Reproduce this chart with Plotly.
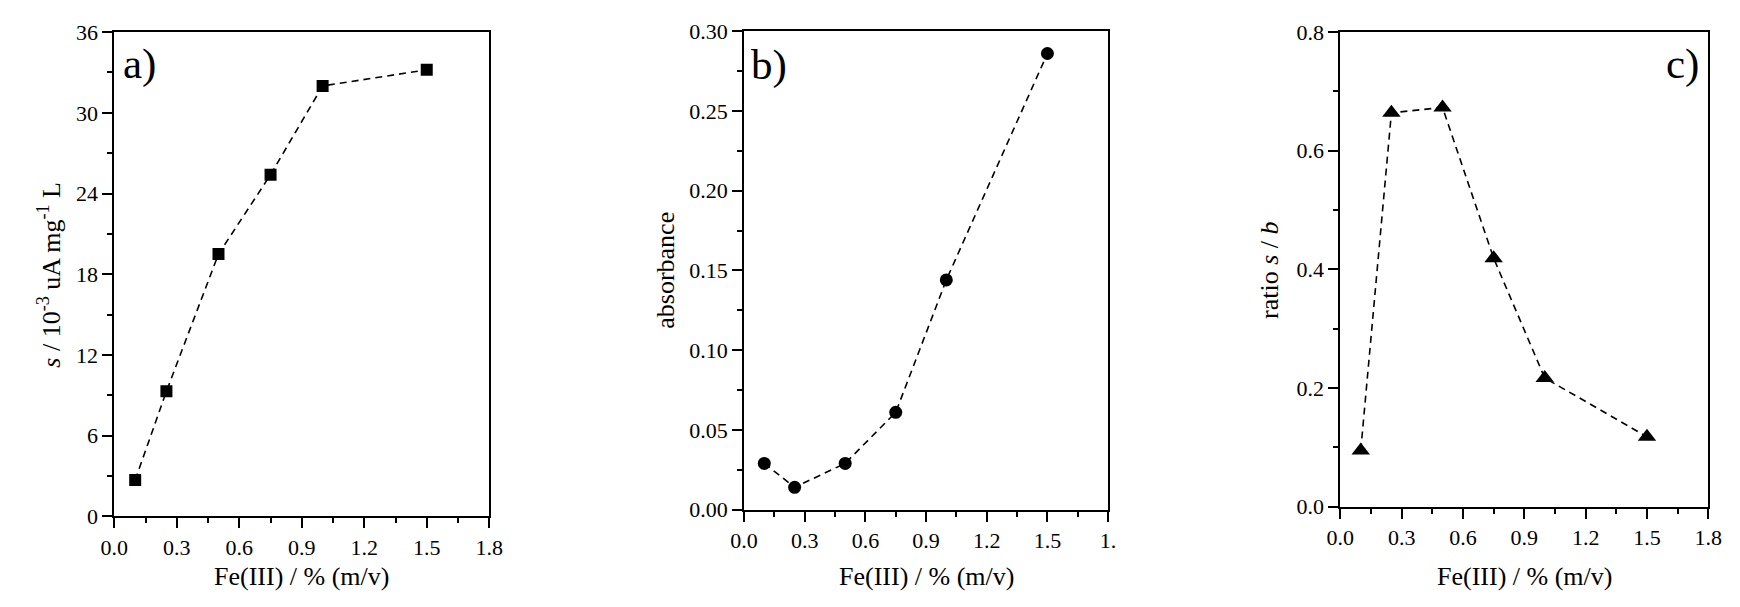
import plotly.graph_objects as go

# ---- data ----
fe_conc = [0.1, 0.25, 0.5, 0.75, 1.0, 1.5]
sensitivity = [2.7, 9.3, 19.5, 25.4, 32.0, 33.2]          # s / 10^-3 uA mg^-1 L
absorbance = [0.029, 0.014, 0.029, 0.061, 0.144, 0.286]
ratio_sb = [0.095, 0.664, 0.673, 0.419, 0.217, 0.118]

x_tick_vals = [0.0, 0.3, 0.6, 0.9, 1.2, 1.5, 1.8]
x_tick_text = ["0.0", "0.3", "0.6", "0.9", "1.2", "1.5", "1.8"]
x_tick_text_b = ["0.0", "0.3", "0.6", "0.9", "1.2", "1.5", "1."]

x_title = "Fe(III) / % (m/v)"
y_titles = ["<i>s</i> / 10<sup>-3</sup> uA mg<sup>-1</sup> L", "absorbance", "ratio <i>s</i> / <i>b</i>"]
panel_labels = ["a)", "b)", "c)"]

W, H = 1740, 607
FONT = "'Liberation Serif', 'Times New Roman', Times, 'DejaVu Serif', serif"

# plot areas in pixels (left, right, top, bottom)
areas = [(102, 483, 21, 526), (742, 1112, 20, 519), (1348, 1722, 21, 516)]

fig = go.Figure()

line_style = dict(color="black", width=1.6, dash="7px,5px")
fig.add_trace(go.Scatter(x=fe_conc, y=sensitivity, mode="lines+markers", line=line_style,
                         marker=dict(symbol="square", size=12, color="black"),
                         xaxis="x", yaxis="y", showlegend=False))
fig.add_trace(go.Scatter(x=fe_conc, y=absorbance, mode="lines+markers", line=line_style,
                         marker=dict(symbol="circle", size=13, color="black"),
                         xaxis="x2", yaxis="y2", showlegend=False))
fig.add_trace(go.Scatter(x=fe_conc, y=ratio_sb, mode="lines+markers", line=line_style,
                         marker=dict(symbol="triangle-up", size=16, color="black"),
                         xaxis="x3", yaxis="y3", showlegend=False))

tickfont = dict(family=FONT, size=22, color="black")

def xaxis(i, ticktext):
    l, r, t, b = areas[i]
    return dict(domain=[l / W, r / W], range=[0, 1.8], anchor=["y", "y2", "y3"][i],
                tickvals=x_tick_vals, ticktext=ticktext, ticks="outside", ticklen=10,
                tickwidth=2, tickcolor="black", showline=True, linewidth=2, linecolor="black",
                mirror=True, showgrid=False, zeroline=False, tickfont=tickfont,
                minor=dict(ticks="outside", ticklen=5, tickwidth=2, tickcolor="black",
                           dtick=0.15, tick0=0, showgrid=False))

def yaxis(i, rng, dtick, minor_dtick, fmt):
    l, r, t, b = areas[i]
    return dict(domain=[1 - b / H, 1 - t / H], range=rng, anchor=["x", "x2", "x3"][i],
                dtick=dtick, tick0=0, tickformat=fmt, ticks="outside", ticklen=10,
                tickwidth=2, tickcolor="black", showline=True, linewidth=2, linecolor="black",
                mirror=True, showgrid=False, zeroline=False, tickfont=tickfont,
                minor=dict(ticks="outside", ticklen=5, tickwidth=2, tickcolor="black",
                           dtick=minor_dtick, tick0=0, showgrid=False))

annotations = []
title_font = dict(family=FONT, size=26, color="black")
ytitle_x = [36, 662, 1276]
for i, (l, r, t, b) in enumerate(areas):
    annotations.append(dict(text=x_title, x=(l + r) / 2 / W, y=1 - 589 / H, xref="paper", yref="paper",
                            xanchor="center", yanchor="middle", showarrow=False, font=title_font))
    annotations.append(dict(text=y_titles[i], x=ytitle_x[i] / W, y=1 - ((t + b) / 2) / H,
                            xref="paper", yref="paper", xanchor="center", yanchor="middle",
                            textangle=-90, showarrow=False, font=title_font))

label_font = dict(family=FONT, size=43, color="black")
annotations.append(dict(text=panel_labels[0], x=109 / W, y=1 - 54 / H, xref="paper", yref="paper",
                        xanchor="left", yanchor="middle", showarrow=False, font=label_font))
annotations.append(dict(text=panel_labels[1], x=747 / W, y=1 - 55 / H, xref="paper", yref="paper",
                        xanchor="left", yanchor="middle", showarrow=False, font=label_font))
annotations.append(dict(text=panel_labels[2], x=1715 / W, y=1 - 54 / H, xref="paper", yref="paper",
                        xanchor="right", yanchor="middle", showarrow=False, font=label_font))

fig.update_layout(
    width=W, height=H,
    margin=dict(l=0, r=0, t=0, b=0),
    paper_bgcolor="white", plot_bgcolor="white",
    font=dict(family=FONT, color="black"),
    hovermode=False,
    xaxis=xaxis(0, x_tick_text),
    xaxis2=xaxis(1, x_tick_text_b),
    xaxis3=xaxis(2, x_tick_text),
    yaxis=yaxis(0, [0, 36], 6, 3, "d"),
    yaxis2=yaxis(1, [0, 0.30], 0.05, 0.025, ".2f"),
    yaxis3=yaxis(2, [0, 0.8], 0.2, 0.1, ".1f"),
    annotations=annotations,
)

fig.write_html("out.html",
               config={"displayModeBar": False},
               post_script="document.body.style.margin='0';document.body.style.overflow='hidden';")
